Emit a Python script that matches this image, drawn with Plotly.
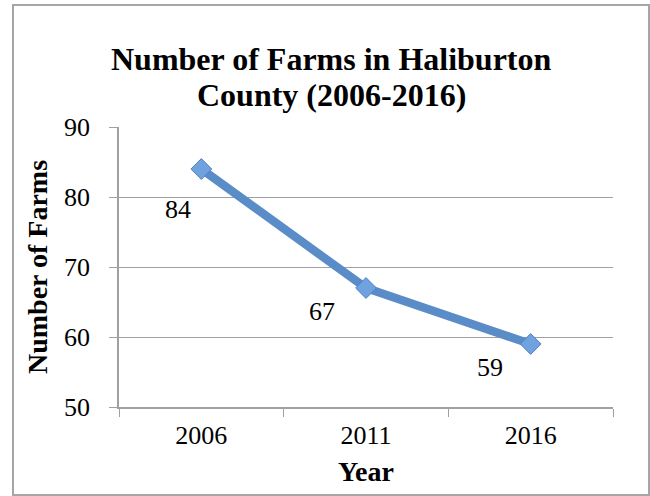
import plotly.graph_objects as go

years = ["2006", "2011", "2016"]
farms = [84, 67, 59]
y_ticks = [50, 60, 70, 80, 90]

title_lines = ["Number of Farms in Haliburton", "County (2006-2016)"]
x_title = "Year"
y_title = "Number of Farms"

# pixel offsets of the data labels from their points (style, not data)
label_offsets = [(-23, -40), (-44, -23), (-41, -23)]

SERIF = "Liberation Serif"
LINE = "#5A8DC8"

fig = go.Figure()
fig.add_trace(go.Scatter(
    x=years, y=farms, mode="lines+markers",
    line=dict(color=LINE, width=8.5),
    marker=dict(symbol="diamond", size=16, color="#6FA2DE",
                line=dict(color="#4F83C2", width=1)),
    showlegend=False, hoverinfo="x+y",
))

for i, yv in enumerate(farms):
    dx, dy = label_offsets[i]
    fig.add_annotation(x=i, y=yv, xref="x", yref="y", text=str(yv),
                       showarrow=False, xshift=dx, yshift=dy,
                       font=dict(family=SERIF, size=26, color="black"))

# title lines (chart-centred)
W, L, R, T, B, H = 650, 119, 37, 127, 89, 496
pw, ph = W - L - R, H - T - B
def px_x(x):
    return (x - L) / pw
def px_y(y):
    return (H - B - y) / ph

title_centres = [59, 95]
for line, yc in zip(title_lines, title_centres):
    fig.add_annotation(x=px_x(331), y=px_y(yc), xref="paper", yref="paper",
                       xanchor="center", yanchor="middle", showarrow=False,
                       text=line,
                       font=dict(family=SERIF, size=32, color="black", weight="bold"))

fig.update_layout(
    width=W, height=H,
    margin=dict(l=L, r=R, t=T, b=B),
    paper_bgcolor="white", plot_bgcolor="white",
    xaxis=dict(
        type="category", range=[-0.5, 2.5],
        showline=True, linecolor="#A0A0A0", linewidth=1.5,
        ticks="outside", tickson="boundaries", ticklen=8, tickcolor="#A0A0A0",
        showgrid=False, ticklabelstandoff=4,
        tickfont=dict(family=SERIF, size=26, color="black"),
        title=dict(text=x_title, standoff=12,
                   font=dict(family=SERIF, size=28, color="black", weight="bold")),
    ),
    yaxis=dict(
        range=[50, 90], tickvals=y_ticks,
        showline=True, linecolor="#A0A0A0", linewidth=1.5,
        ticks="outside", ticklen=8, tickcolor="#A0A0A0",
        showgrid=True, gridcolor="#A0A0A0", gridwidth=1.2,
        zeroline=False, ticklabelstandoff=14,
        tickfont=dict(family=SERIF, size=26, color="black"),
        title=dict(text=y_title, standoff=8,
                   font=dict(family=SERIF, size=28, color="black", weight="bold")),
    ),
    shapes=[dict(type="rect", xref="paper", yref="paper",
                 x0=px_x(13), x1=px_x(649), y0=px_y(495), y1=px_y(5),
                 line=dict(color="#A6A6A6", width=2), fillcolor="rgba(0,0,0,0)",
                 layer="below")],
)

fig.write_html("out.html")
